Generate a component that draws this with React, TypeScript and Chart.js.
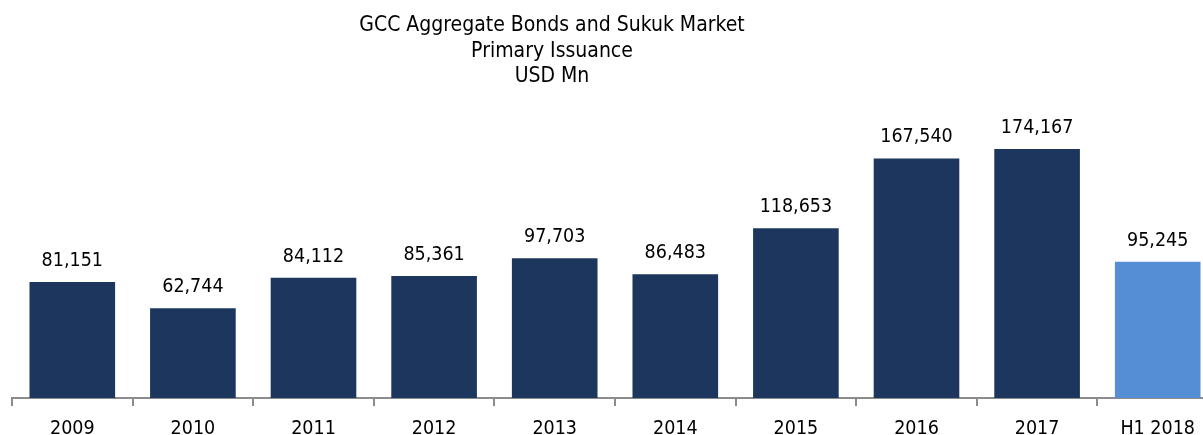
import React, { useEffect, useRef } from "react";
import { Chart, registerables } from "chart.js";

Chart.register(...registerables);

const categories = ["2009", "2010", "2011", "2012", "2013", "2014", "2015", "2016", "2017", "H1 2018"];
const issuance = [81151, 62744, 84112, 85361, 97703, 86483, 118653, 167540, 174167, 95245];
const barColors = ["#1C365E", "#1C365E", "#1C365E", "#1C365E", "#1C365E", "#1C365E", "#1C365E", "#1C365E", "#1C365E", "#558ED5"];
const titleLines = ["GCC Aggregate Bonds and Sukuk Market", "Primary Issuance", "USD Mn"];

const FONT = "'DejaVu Sans Condensed', 'DejaVu Sans', Tahoma, sans-serif";

export default function App() {
  const ref = useRef<HTMLCanvasElement | null>(null);

  useEffect(() => {
    if (!ref.current) return;
    const labelPlugin = {
      id: "valueLabels",
      afterDatasetsDraw(chart: any) {
        const ctx = chart.ctx;
        const meta = chart.getDatasetMeta(0);
        ctx.save();
        ctx.font = `19.5px ${FONT}`;
        ctx.fillStyle = "#000";
        ctx.textAlign = "center";
        ctx.textBaseline = "alphabetic";
        meta.data.forEach((bar: any, i: number) => {
          ctx.fillText(issuance[i].toLocaleString("en-US"), bar.x, bar.y - 16);
        });
        ctx.restore();
      },
    };
    const titlePlugin = {
      id: "multiTitle",
      afterDraw(chart: any) {
        const ctx = chart.ctx;
        ctx.save();
        ctx.font = `21px ${FONT}`;
        ctx.fillStyle = "#000";
        ctx.textAlign = "center";
        ctx.textBaseline = "alphabetic";
        titleLines.forEach((t, i) => ctx.fillText(t, 552, 31 + i * 25.5));
        ctx.restore();
      },
    };
    const chart = new Chart(ref.current, {
      type: "bar",
      data: {
        labels: categories,
        datasets: [
          {
            data: issuance,
            backgroundColor: barColors,
            categoryPercentage: 1,
            barPercentage: 0.71,
            borderWidth: 0,
          },
        ],
      },
      options: {
        responsive: false,
        animation: false,
        layout: { padding: { left: 12, right: 12, top: 112, bottom: -16.4 } },
        plugins: { legend: { display: false }, tooltip: { enabled: false } },
        scales: {
          y: { display: false, min: 0, max: 200000 },
          x: {
            grid: { offset: true, drawOnChartArea: false, tickLength: 8, color: "#8C8C8C", lineWidth: 2 },
            border: { color: "#8C8C8C", width: 2 },
            ticks: { color: "#000", font: { family: FONT, size: 19.5 }, padding: 11 },
          },
        },
      },
      plugins: [labelPlugin, titlePlugin],
    });
    return () => chart.destroy();
  }, []);

  return (
    <div style={{ position: "fixed", left: 0, top: 0, width: 1203, height: 435, overflow: "hidden", background: "#fff" }}>
      <canvas ref={ref} width={1230} height={435} style={{ width: 1230, height: 435, display: "block" }} />
    </div>
  );
}
